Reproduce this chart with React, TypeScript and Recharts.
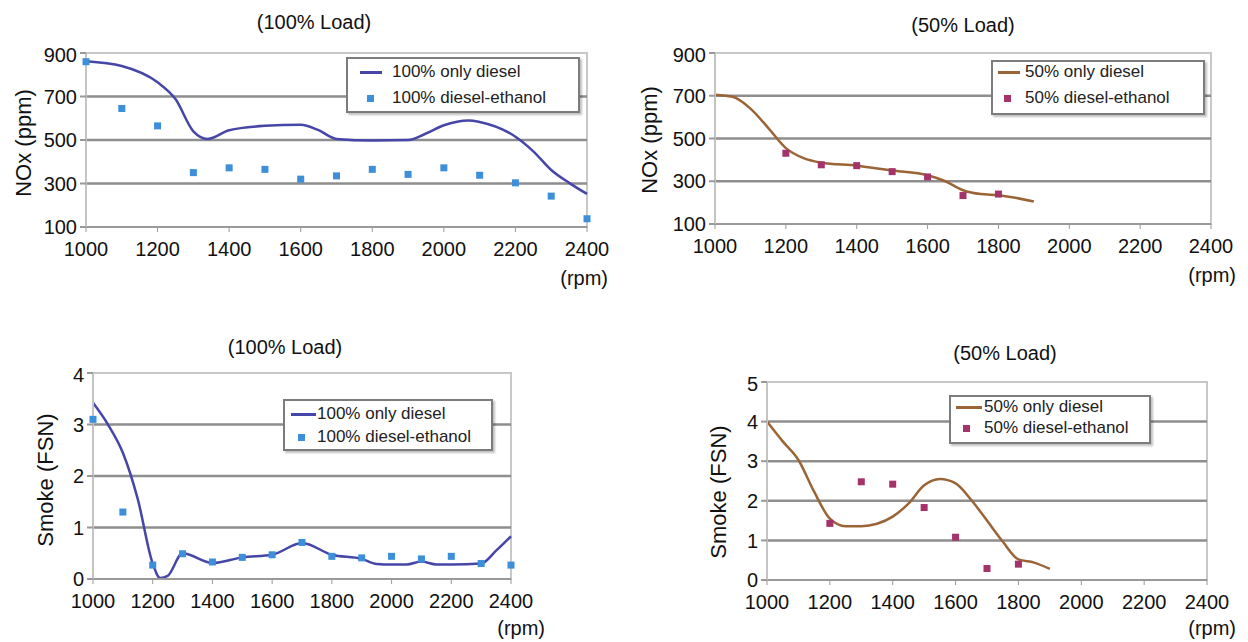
import React from "react";
import {
  ComposedChart,
  Line,
  Scatter,
  XAxis,
  YAxis,
  ReferenceLine,
  ReferenceArea,
} from "recharts";

// rpm ticks shared by all four panels
const rpmTicks = [1000, 1200, 1400, 1600, 1800, 2000, 2200, 2400];
const noxTicks = [100, 300, 500, 700, 900];
const smoke100Ticks = [0, 1, 2, 3, 4];
const smoke50Ticks = [0, 1, 2, 3, 4, 5];

// NOx, 100% load
const nox100LineRpm = [1000, 1100, 1200, 1250, 1300, 1340, 1400, 1500, 1600, 1650, 1700, 1800, 1900, 1950, 2000, 2070, 2100, 2200, 2250, 2300, 2350, 2400];
const nox100Diesel = [862, 840, 765, 688, 540, 505, 545, 565, 570, 545, 505, 498, 500, 530, 568, 590, 583, 515, 448, 362, 303, 252];
const nox100PointRpm = [1000, 1100, 1200, 1300, 1400, 1500, 1600, 1700, 1800, 1900, 2000, 2100, 2200, 2300, 2400];
const nox100Ethanol = [860, 645, 565, 350, 372, 365, 320, 335, 365, 342, 372, 338, 303, 242, 138];

// NOx, 50% load
const nox50LineRpm = [1000, 1050, 1100, 1150, 1200, 1250, 1300, 1400, 1500, 1600, 1650, 1700, 1750, 1800, 1900];
const nox50Diesel = [705, 695, 640, 550, 455, 408, 387, 373, 350, 328, 300, 258, 240, 235, 205];
const nox50PointRpm = [1200, 1300, 1400, 1500, 1600, 1700, 1800];
const nox50Ethanol = [431, 377, 373, 345, 320, 233, 240];

// Smoke, 100% load
const smoke100LineRpm = [1000, 1050, 1100, 1150, 1200, 1225, 1250, 1300, 1400, 1500, 1600, 1700, 1800, 1900, 1950, 2000, 2050, 2100, 2150, 2200, 2300, 2350, 2400];
const smoke100Diesel = [3.42, 3.0, 2.45, 1.55, 0.3, 0.02, 0.06, 0.5, 0.31, 0.42, 0.47, 0.7, 0.47, 0.39, 0.29, 0.28, 0.28, 0.34, 0.28, 0.28, 0.3, 0.55, 0.83];
const smoke100PointRpm = [1000, 1100, 1200, 1300, 1400, 1500, 1600, 1700, 1800, 1900, 2000, 2100, 2200, 2300, 2400];
const smoke100Ethanol = [3.1, 1.3, 0.27, 0.49, 0.33, 0.42, 0.47, 0.71, 0.44, 0.41, 0.44, 0.39, 0.44, 0.3, 0.27];

// Smoke, 50% load
const smoke50LineRpm = [1000, 1050, 1100, 1150, 1200, 1250, 1300, 1350, 1400, 1450, 1500, 1550, 1600, 1650, 1700, 1750, 1800, 1850, 1900];
const smoke50Diesel = [4.0, 3.5, 3.03, 2.23, 1.55, 1.36, 1.36, 1.42, 1.6, 1.93, 2.39, 2.55, 2.44, 2.02, 1.5, 0.97, 0.52, 0.44, 0.28];
const smoke50PointRpm = [1200, 1300, 1400, 1500, 1600, 1700, 1800];
const smoke50Ethanol = [1.43, 2.48, 2.42, 1.83, 1.08, 0.29, 0.4];

const FONT = "'Liberation Sans', Arial, sans-serif";
const BLUE_LINE = "#4646a8";
const BLUE_DOT = "#3c8fd8";
const BROWN_LINE = "#9b6436";
const PURPLE_DOT = "#a4336b";

const zip = (xs: number[], ys: number[]) => xs.map((rpm, i) => ({ rpm, v: ys[i] }));

type PanelProps = {
  plot: { x0: number; x1: number; y0: number; y1: number };
  yTicks: number[];
  lineData: { rpm: number; v: number }[];
  pointData: { rpm: number; v: number }[];
  lineColor: string;
  dotColor: string;
  title: string;
  titlePos: [number, number];
  yLabel: string;
  yLabelPos: [number, number];
  rpmPos: [number, number];
  legend: {
    box: [number, number, number, number];
    rows: [number, number];
    swatch: [number, number];
    textX: number;
    markerX: number;
    labels: [string, string];
  };
};

function Panel(p: PanelProps) {
  const { x0, x1, y0, y1 } = p.plot;
  const yMin = p.yTicks[0];
  const yMax = p.yTicks[p.yTicks.length - 1];
  const inner = p.yTicks.slice(1, -1);
  const [bx0, by0, bx1, by1] = p.legend.box;
  const dot = (props: any) => (
    <rect x={props.cx - 3.5} y={props.cy - 3.5} width={7} height={7} fill={p.dotColor} />
  );
  return (
    <>
      <div style={{ position: "absolute", left: x0 - 70, top: y0 - 10 }}>
        <ComposedChart
          width={x1 - x0 + 110}
          height={y1 - y0 + 55}
          margin={{ top: 10, right: 40, left: 10, bottom: 15 }}
        >
          <XAxis
            type="number"
            dataKey="rpm"
            domain={[1000, 2400]}
            ticks={rpmTicks}
            height={30}
            tick={{ fontSize: 20, fill: "#111", fontFamily: FONT }}
            tickSize={5}
            tickMargin={10}
            tickLine={{ stroke: "#999" }}
            axisLine={{ stroke: "#999", strokeWidth: 2 }}
          />
          <YAxis
            type="number"
            domain={[yMin, yMax]}
            ticks={p.yTicks}
            width={60}
            tick={{ fontSize: 20, fill: "#111", fontFamily: FONT }}
            tickSize={6}
            tickMargin={3}
            tickLine={{ stroke: "#999", strokeWidth: 2 }}
            axisLine={{ stroke: "#c4c4c4", strokeWidth: 2 }}
          />
          <ReferenceArea
            x1={1000}
            x2={2400}
            y1={yMin}
            y2={yMax}
            fill="none"
            stroke="#c8c8c8"
            strokeWidth={2}
          />
          {inner.map((t) => (
            <ReferenceLine key={t} y={t} stroke="#8e8e8e" strokeWidth={2.5} />
          ))}
          <Line
            data={p.lineData}
            dataKey="v"
            type="monotone"
            stroke={p.lineColor}
            strokeWidth={2.5}
            dot={false}
            isAnimationActive={false}
          />
          <Scatter data={p.pointData} dataKey="v" shape={dot} isAnimationActive={false} />
        </ComposedChart>
      </div>
      <div
        style={{
          position: "absolute",
          left: p.titlePos[0],
          top: p.titlePos[1],
          transform: "translate(-50%, -50%)",
          fontSize: 20,
          whiteSpace: "nowrap",
        }}
      >
        {p.title}
      </div>
      <div
        style={{
          position: "absolute",
          left: p.yLabelPos[0],
          top: p.yLabelPos[1],
          transform: "translate(-50%, -50%) rotate(-90deg)",
          fontSize: 22,
          whiteSpace: "nowrap",
        }}
      >
        {p.yLabel}
      </div>
      <div
        style={{
          position: "absolute",
          left: p.rpmPos[0],
          top: p.rpmPos[1],
          transform: "translate(-100%, -50%)",
          fontSize: 20,
          whiteSpace: "nowrap",
        }}
      >
        (rpm)
      </div>
      <div
        style={{
          position: "absolute",
          left: bx0,
          top: by0,
          width: bx1 - bx0,
          height: by1 - by0,
          boxSizing: "border-box",
          border: "2px solid #7c7c7c",
          background: "#fff",
          boxShadow: "2px 2px 2px rgba(0,0,0,0.25)",
        }}
      />
      <div
        style={{
          position: "absolute",
          left: p.legend.swatch[0],
          top: p.legend.rows[0] - 1.5,
          width: p.legend.swatch[1] - p.legend.swatch[0],
          height: 3,
          background: p.lineColor,
        }}
      />
      <div
        style={{
          position: "absolute",
          left: p.legend.markerX - 3.5,
          top: p.legend.rows[1] - 3.5,
          width: 7,
          height: 7,
          background: p.dotColor,
        }}
      />
      {p.legend.labels.map((l, i) => (
        <div
          key={l}
          style={{
            position: "absolute",
            left: p.legend.textX,
            top: p.legend.rows[i],
            transform: "translateY(-50%)",
            fontSize: 17,
            color: "#222",
            whiteSpace: "nowrap",
          }}
        >
          {l}
        </div>
      ))}
    </>
  );
}

export default function App() {
  return (
    <div
      style={{
        position: "absolute",
        left: 0,
        top: 0,
        width: 1248,
        height: 642,
        background: "#fff",
        fontFamily: FONT,
        color: "#111",
        overflow: "hidden",
      }}
    >
      <Panel
        plot={{ x0: 86, x1: 587, y0: 53, y1: 227 }}
        yTicks={noxTicks}
        lineData={zip(nox100LineRpm, nox100Diesel)}
        pointData={zip(nox100PointRpm, nox100Ethanol)}
        lineColor={BLUE_LINE}
        dotColor={BLUE_DOT}
        title="(100% Load)"
        titlePos={[314, 22]}
        yLabel="NOx (ppm)"
        yLabelPos={[24, 143]}
        rpmPos={[608, 278]}
        legend={{
          box: [346, 57, 580, 113],
          rows: [72, 98],
          swatch: [360, 382],
          textX: 392,
          markerX: 370,
          labels: ["100% only diesel", "100% diesel-ethanol"],
        }}
      />
      <Panel
        plot={{ x0: 715, x1: 1211, y0: 53, y1: 224 }}
        yTicks={noxTicks}
        lineData={zip(nox50LineRpm, nox50Diesel)}
        pointData={zip(nox50PointRpm, nox50Ethanol)}
        lineColor={BROWN_LINE}
        dotColor={PURPLE_DOT}
        title="(50% Load)"
        titlePos={[963, 25]}
        yLabel="NOx (ppm)"
        yLabelPos={[650, 140]}
        rpmPos={[1236, 275]}
        legend={{
          box: [991, 60, 1205, 115],
          rows: [72, 98],
          swatch: [998, 1020],
          textX: 1025,
          markerX: 1007,
          labels: ["50% only diesel", "50% diesel-ethanol"],
        }}
      />
      <Panel
        plot={{ x0: 93, x1: 511, y0: 373, y1: 579 }}
        yTicks={smoke100Ticks}
        lineData={zip(smoke100LineRpm, smoke100Diesel)}
        pointData={zip(smoke100PointRpm, smoke100Ethanol)}
        lineColor={BLUE_LINE}
        dotColor={BLUE_DOT}
        title="(100% Load)"
        titlePos={[285, 347]}
        yLabel="Smoke (FSN)"
        yLabelPos={[46, 480]}
        rpmPos={[545, 628]}
        legend={{
          box: [283, 399, 493, 451],
          rows: [414, 437],
          swatch: [291, 316],
          textX: 317,
          markerX: 301,
          labels: ["100% only diesel", "100% diesel-ethanol"],
        }}
      />
      <Panel
        plot={{ x0: 767, x1: 1207, y0: 382, y1: 580 }}
        yTicks={smoke50Ticks}
        lineData={zip(smoke50LineRpm, smoke50Diesel)}
        pointData={zip(smoke50PointRpm, smoke50Ethanol)}
        lineColor={BROWN_LINE}
        dotColor={PURPLE_DOT}
        title="(50% Load)"
        titlePos={[1005, 353]}
        yLabel="Smoke (FSN)"
        yLabelPos={[719, 492]}
        rpmPos={[1236, 628]}
        legend={{
          box: [949, 395, 1151, 444],
          rows: [407, 428],
          swatch: [956, 982],
          textX: 984,
          markerX: 966,
          labels: ["50% only diesel", "50% diesel-ethanol"],
        }}
      />
    </div>
  );
}
